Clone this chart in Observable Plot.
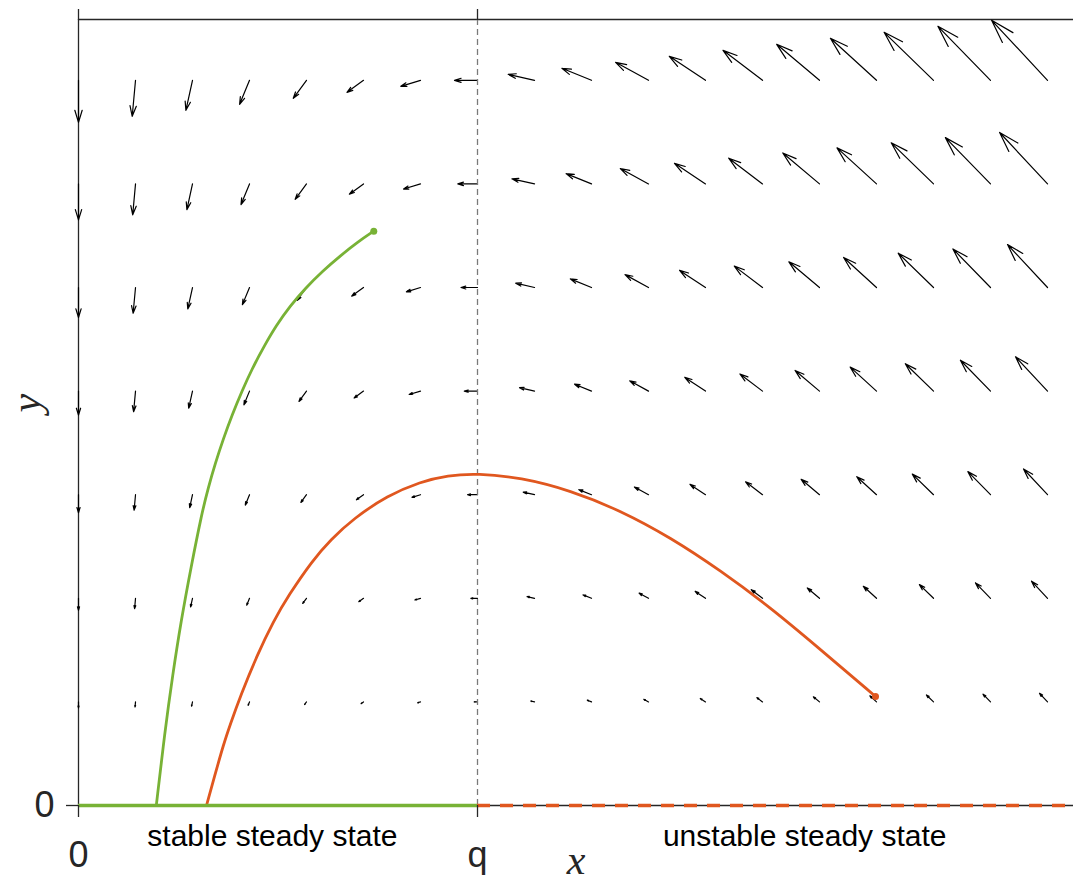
<!DOCTYPE html>
<html>
<head>
<meta charset="utf-8">
<script src="https://cdn.jsdelivr.net/npm/d3@7"></script>
<script src="https://cdn.jsdelivr.net/npm/@observablehq/plot@0.6"></script>
<style>
  body { margin: 0; background: #ffffff; }
  #chart svg { display: block; }
</style>
</head>
<body>
<div id="chart"></div>
<script>
// ---- data (x in units of q, y in grid-row units) ----
const gridX = [0, 0.1429, 0.2857, 0.4286, 0.5714, 0.7143, 0.8571, 1, 1.1429, 1.2857, 1.4286, 1.5714, 1.7143, 1.8571, 2, 2.1429, 2.2857, 2.4286];
const gridY = [1, 2, 3, 4, 5, 6, 7];

// vector components (horizontal, vertical-up) for each row of gridY
const fieldU = [
  [0, -0.5, -0.9, -1.4, -1.9, -2.4, -2.8, -3.3, -3.8, -4.2, -4.7, -5.2, -5.6, -6.1, -6.6, -7.1, -7.5, -8.0],
  [0, -0.9, -1.9, -2.8, -3.8, -4.7, -5.6, -6.6, -7.5, -8.5, -9.4, -10.3, -11.3, -12.2, -13.2, -14.1, -15.0, -16.0],
  [0, -1.4, -2.8, -4.2, -5.6, -7.1, -8.5, -9.9, -11.3, -12.7, -14.1, -15.5, -16.9, -18.3, -19.7, -21.2, -22.6, -24.0],
  [0, -1.9, -3.8, -5.6, -7.5, -9.4, -11.3, -13.2, -15.0, -16.9, -18.8, -20.7, -22.6, -24.4, -26.3, -28.2, -30.1, -32.0],
  [0, -2.4, -4.7, -7.1, -9.4, -11.8, -14.1, -16.5, -18.8, -21.2, -23.5, -25.9, -28.2, -30.6, -32.9, -35.3, -37.6, -40.0],
  [0, -2.8, -5.6, -8.5, -11.3, -14.1, -16.9, -19.7, -22.6, -25.4, -28.2, -31.0, -33.8, -36.7, -39.5, -42.3, -45.1, -47.9],
  [0, -3.3, -6.6, -9.9, -13.2, -16.5, -19.7, -23.0, -26.3, -29.6, -32.9, -36.2, -39.5, -42.8, -46.1, -49.4, -52.6, -55.9]
];
const fieldV = [
  [-6.0, -5.1, -4.3, -3.4, -2.6, -1.7, -0.9, 0, 0.9, 1.7, 2.6, 3.4, 4.3, 5.1, 6.0, 6.9, 7.7, 8.6],
  [-12.0, -10.3, -8.6, -6.9, -5.1, -3.4, -1.7, 0, 1.7, 3.4, 5.1, 6.9, 8.6, 10.3, 12.0, 13.7, 15.4, 17.1],
  [-18.0, -15.4, -12.9, -10.3, -7.7, -5.1, -2.6, 0, 2.6, 5.1, 7.7, 10.3, 12.9, 15.4, 18.0, 20.6, 23.1, 25.7],
  [-24.0, -20.6, -17.1, -13.7, -10.3, -6.9, -3.4, 0, 3.4, 6.9, 10.3, 13.7, 17.1, 20.6, 24.0, 27.4, 30.9, 34.3],
  [-30.0, -25.7, -21.4, -17.1, -12.9, -8.6, -4.3, 0, 4.3, 8.6, 12.9, 17.1, 21.4, 25.7, 30.0, 34.3, 38.6, 42.9],
  [-36.0, -30.9, -25.7, -20.6, -15.4, -10.3, -5.1, 0, 5.1, 10.3, 15.4, 20.6, 25.7, 30.9, 36.0, 41.1, 46.3, 51.4],
  [-42.0, -36.0, -30.0, -24.0, -18.0, -12.0, -6.0, 0, 6.0, 12.0, 18.0, 24.0, 30.0, 36.0, 42.0, 48.0, 54.0, 60.0]
];

// trajectories (first point = start dot)
const greenX = [0.740, 0.700, 0.657, 0.612, 0.569, 0.530, 0.495, 0.464, 0.435, 0.409, 0.385, 0.363, 0.343, 0.325, 0.309, 0.282, 0.257, 0.236, 0.216, 0.195];
const greenY = [5.544, 5.440, 5.309, 5.160, 4.995, 4.820, 4.630, 4.425, 4.215, 3.995, 3.770, 3.540, 3.305, 3.065, 2.820, 2.300, 1.780, 1.260, 0.700, 0];
const orangeX = [1.9975, 1.8596, 1.7343, 1.6090, 1.4837, 1.3584, 1.2331, 1.1078, 1.0000, 0.9248, 0.8571, 0.7744, 0.6892, 0.6316, 0.5865, 0.5263, 0.4887, 0.4486, 0.4060, 0.3810, 0.3634, 0.3409, 0.3208];
const orangeY = [1.052, 1.506, 1.911, 2.268, 2.587, 2.847, 3.041, 3.166, 3.205, 3.187, 3.125, 2.992, 2.770, 2.565, 2.366, 2.028, 1.780, 1.460, 1.060, 0.790, 0.590, 0.280, 0];

// axes & annotations
const xMax = 2.4937;
const yMax = 7.587;
const qValue = 1;
const xTickValues = [0, 1];
const xTickLabels = ["0", "q"];
const yTickValues = [0];
const yTickLabels = ["0"];
const annotationText = ["stable steady state", "unstable steady state"];
const annotationX = [0.486, 1.82];

// ---- styles ----
const green = "#78b236";
const orange = "#e0571f";
const axisColor = "#262626";

// ---- build tables ----
const vectors = [];
gridY.forEach((yv, i) => {
  gridX.forEach((xv, j) => {
    const u = fieldU[i][j], v = fieldV[i][j];
    const len = Math.hypot(u, v);
    if (len > 0) vectors.push({x: xv, y: yv, length: len, rotate: Math.atan2(u, v) * 180 / Math.PI});
  });
});
const greenData = greenX.map((x, i) => ({x, y: greenY[i]}));
const orangeData = orangeX.map((x, i) => ({x, y: orangeY[i]}));
const annotations = annotationText.map((t, i) => ({text: t, x: annotationX[i], y: 0}));

const quiverShape = {
  draw(ctx, l) {
    const w = l * 0.3;
    const a = 17 * Math.PI / 180;
    ctx.moveTo(0, 0);
    ctx.lineTo(0, -l);
    ctx.moveTo(-w * Math.sin(a), -l + w * Math.cos(a));
    ctx.lineTo(0, -l);
    ctx.lineTo(w * Math.sin(a), -l + w * Math.cos(a));
  }
};

const chart = Plot.plot({
  width: 1073,
  height: 882,
  marginLeft: 78,
  marginRight: 0,
  marginTop: 19,
  marginBottom: 77,
  style: {fontFamily: "'Liberation Sans', Arial, sans-serif", background: "#ffffff", color: axisColor},
  x: {domain: [0, xMax]},
  y: {domain: [0, yMax]},
  length: {type: "identity"},
  marks: [
    // frame lines
    Plot.ruleX([0], {y1: 0, y2: yMax, stroke: axisColor, strokeWidth: 1.3}),
    Plot.ruleY([yMax], {x1: 0, x2: xMax, stroke: axisColor, strokeWidth: 1.3}),
    Plot.ruleY([0], {x1: 0, x2: xMax, stroke: axisColor, strokeWidth: 1.3}),
    // vector field
    Plot.vector(vectors, {x: "x", y: "y", length: "length", rotate: "rotate", anchor: "start", shape: quiverShape, stroke: "#000000", strokeWidth: 1.2}),
    // q line
    Plot.ruleX([qValue], {y1: 0, y2: yMax, stroke: "#7a7a7a", strokeWidth: 1.3, strokeDasharray: "6,4"}),
    // trajectories
    Plot.line(greenData, {x: "x", y: "y", stroke: green, strokeWidth: 2.8, curve: "basis"}),
    Plot.line(orangeData, {x: "x", y: "y", stroke: orange, strokeWidth: 2.8, curve: "basis"}),
    Plot.dot([greenData[0]], {x: "x", y: "y", r: 3.5, fill: green, stroke: null}),
    Plot.dot([orangeData[0]], {x: "x", y: "y", r: 3.5, fill: orange, stroke: null}),
    // steady states on y = 0
    Plot.ruleY([0], {x1: 0, x2: qValue, stroke: green, strokeWidth: 3.5}),
    Plot.ruleY([0], {x1: qValue, x2: xMax, stroke: orange, strokeWidth: 3.5, strokeDasharray: "13,10"}),
    // axes
    Plot.axisX({anchor: "bottom", ticks: xTickValues, tickFormat: (d) => xTickLabels[xTickValues.indexOf(d)], tickSize: 12, tickPadding: 24, fontSize: 36, label: null, color: axisColor, strokeWidth: 1.3}),
    Plot.axisX({anchor: "top", ticks: xTickValues, tickFormat: () => "", tickSize: 11, label: null, color: axisColor, strokeWidth: 1.3}),
    Plot.axisY({anchor: "left", ticks: yTickValues, tickFormat: (d) => yTickLabels[yTickValues.indexOf(d)], tickSize: 12, tickPadding: 12, fontSize: 36, label: null, color: axisColor, strokeWidth: 1.3}),
    // annotations
    Plot.text(annotations, {x: "x", y: "y", text: "text", dy: 40, lineAnchor: "bottom", fontSize: 30, fill: "#000000"}),
    Plot.text(["x"], {frameAnchor: "bottom", dy: 68, lineAnchor: "bottom", fontSize: 42, fontStyle: "italic", fontFamily: "'Liberation Serif', serif", fill: axisColor}),
    Plot.text(["y"], {frameAnchor: "left", dx: -52, rotate: -90, fontSize: 42, fontStyle: "italic", fontFamily: "'Liberation Serif', serif", fill: axisColor})
  ]
});
document.getElementById("chart").appendChild(chart);
</script>
</body>
</html>
